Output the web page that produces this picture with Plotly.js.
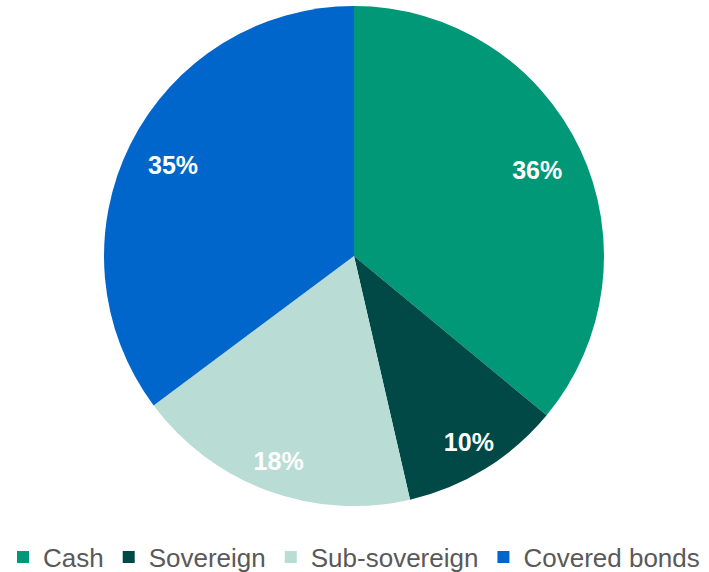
<!DOCTYPE html>
<html>
<head>
<meta charset="utf-8">
<script src="https://cdn.plot.ly/plotly-3.0.1.min.js"></script>
<style>html,body{margin:0;padding:0;background:#fff;}#chart{width:709px;height:572px;}</style>
</head>
<body>
<div id="chart"></div>
<script>
const categories = ["Cash", "Sovereign", "Sub-sovereign", "Covered bonds"];
const shares = [36.0, 10.4, 18.4, 35.2];
const colors = ["#009877", "#004946", "#b9ddd4", "#0066cc"];

const fontFamily = "Liberation Sans, Arial, sans-serif";
const pct = "%{percent:.0%}";
const clear = "rgba(0,0,0,0)";

const basePie = {
  type: "pie",
  labels: categories,
  values: shares,
  sort: false,
  direction: "clockwise",
  rotation: 0,
  marker: {colors: colors, line: {width: 0}},
  textinfo: "none",
  hoverinfo: "label+percent",
  showlegend: true
};

function labelRing(hole, template) {
  return {
    type: "pie",
    labels: categories,
    values: shares,
    sort: false,
    direction: "clockwise",
    rotation: 0,
    hole: hole,
    marker: {colors: categories.map(() => clear), line: {width: 0}},
    texttemplate: template,
    textposition: "inside",
    insidetextorientation: "horizontal",
    textfont: {family: fontFamily, size: 25, color: "#ffffff", weight: "bold"},
    hoverinfo: "skip",
    showlegend: false
  };
}

const ringLarge = labelRing(0.62, [pct, "", "", pct]);
const ringSmall = labelRing(0.75, ["", pct, pct, ""]);

const layout = {
  width: 709,
  height: 572,
  margin: {l: 0, r: 1, t: 6, b: 66, autoexpand: false},
  paper_bgcolor: "#ffffff",
  showlegend: true,
  legend: {
    orientation: "h",
    x: 0.5, xanchor: "center",
    y: -0.102, yanchor: "middle",
    font: {family: fontFamily, size: 26, color: "#595959"},
    itemwidth: 30,
    traceorder: "normal"
  }
};

Plotly.newPlot("chart", [basePie, ringSmall, ringLarge], layout, {displayModeBar: false, staticPlot: true});
</script>
</body>
</html>
